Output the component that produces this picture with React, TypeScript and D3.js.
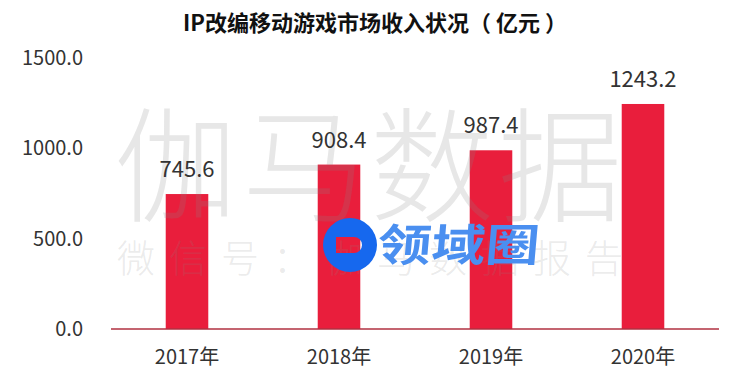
import React from 'react';
import * as d3 from 'd3';

const years = ['2017年', '2018年', '2019年', '2020年'];
const revenue = [745.6, 908.4, 987.4, 1243.2];
const yTicks = [0, 500, 1000, 1500];

const title = 'IP改编移动游戏市场收入状况（ 亿元 ）';
const watermarkBig = '伽马数据';
const watermarkSmall = '微信号：伽马数据报告';
const logoText = '领域圈';

const W = 748;
const H = 389;
const FONT = '"Noto Sans CJK SC", "Noto Sans", sans-serif';

const App: React.FC = () => {
  const x = d3.scaleBand<string>()
    .domain(years)
    .range([111, 719])
    .paddingInner(0.72)
    .paddingOuter(0.36);

  const y = d3.scaleLinear()
    .domain([0, 1500])
    .range([329, 57.5]);

  const fmt = d3.format('.1f');

  // logo ring: circle with a hollow rounded rectangle
  const cx = 350, cy = 245, r = 27;
  const logoPath = [
    `M${cx - r},${cy} a${r},${r} 0 1,0 ${2 * r},0 a${r},${r} 0 1,0 ${-2 * r},0 Z`,
    `M${cx - 14},${cy - 8} h18 a8,8 0 0 1 8,8 v0 a8,8 0 0 1 -8,8 h-18 Z`,
  ].join(' ');

  return (
    <svg width={W} height={H} style={{ position: 'fixed', left: 0, top: 0, background: '#fff' }}
      fontFamily={FONT}>
      <text x={375} y={31} textAnchor="middle" fontSize={22} fontWeight="bold" fill="#111">
        {title}
      </text>

      {yTicks.map(t => (
        <text key={t} x={83} y={y(t)} dy="0.35em" textAnchor="end" fontSize={20} fill="#333">
          {fmt(t)}
        </text>
      ))}

      {years.map((yr, i) => (
        <rect key={yr} x={x(yr)} y={y(revenue[i])} width={x.bandwidth()}
          height={y(0) - y(revenue[i])} fill="#e91e3c" />
      ))}

      <line x1={111} x2={719} y1={y(0)} y2={y(0)} stroke="#b03040" strokeWidth={1.5} />

      {/* watermarks */}
      <text x={370} y={212} textAnchor="middle" fontSize={124} fontWeight={300}
        fill="#888" fillOpacity={0.2} letterSpacing={4}>
        {watermarkBig}
      </text>
      <text x={117} y={272} fontSize={38} fontWeight={300}
        fill="#888" fillOpacity={0.18} letterSpacing={14}>
        {watermarkSmall}
      </text>

      {years.map((yr, i) => (
        <text key={yr} x={(x(yr) ?? 0) + x.bandwidth() / 2} y={y(revenue[i]) - 17}
          textAnchor="middle" fontSize={22} fill="#333">
          {fmt(revenue[i])}
        </text>
      ))}

      {years.map(yr => (
        <text key={yr} x={(x(yr) ?? 0) + x.bandwidth() / 2} y={364}
          textAnchor="middle" fontSize={20} fill="#333">
          {yr}
        </text>
      ))}

      <path d={logoPath} fill="#1668ee" fillRule="evenodd" />
      <text x={378} y={261} fontSize={44} fontWeight="bold" fill="#4a8ff0"
        textLength={162} lengthAdjust="spacingAndGlyphs"
        transform="skewX(-5) translate(21,0)">
        {logoText}
      </text>
    </svg>
  );
};

export default App;
